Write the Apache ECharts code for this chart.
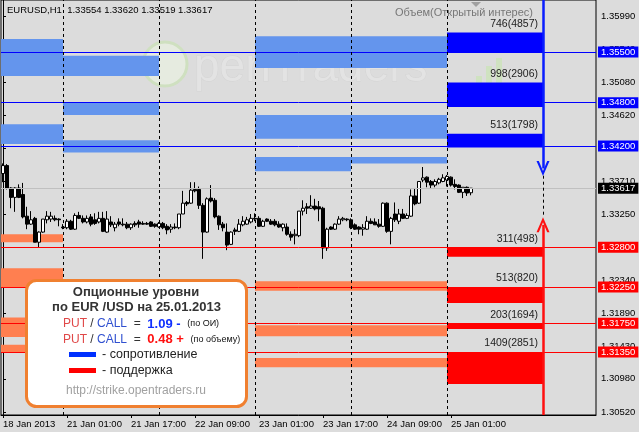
<!DOCTYPE html>
<html>
<head>
<meta charset="utf-8">
<style>
  html, body { margin: 0; padding: 0; background: #dcdcdc; }
  #chart { width: 639px; height: 432px; }
</style>
<script src="https://cdn.jsdelivr.net/npm/echarts@6.0.0/dist/echarts.min.js"></script>
</head>
<body>
<div id="chart"></div>
<script>
// EURUSD H1, bar 0 = 18 Jan 2013 09:00
const opens = [1.3382,1.3393,1.3362,1.3349,1.3362,1.3353,1.3323,1.3312,1.3320,1.3287,1.3301,1.3318,1.3319,1.3320,1.3319,1.3308,1.3307,1.3316,1.3305,1.3324,
  1.3320,1.3315,1.3322,1.3318,1.3315,1.3320,1.3301,1.3315,1.3307,1.3315,1.3312,1.3312,1.3307,1.3313,1.3315,1.3313,1.3313,1.3315,1.3312,1.3308,
  1.3313,1.3309,1.3305,1.3308,1.3307,1.3326,1.3342,1.3341,1.3360,1.3360,1.3338,1.3301,1.3348,1.3345,1.3323,1.3312,1.3301,1.3284,1.3304,1.3302,
  1.3311,1.3312,1.3315,1.3320,1.3320,1.3309,1.3319,1.3316,1.3316,1.3312,1.3307,1.3308,1.3298,1.3296,1.3296,1.3330,1.3336,1.3334,1.3337,1.3336,
  1.3334,1.3279,1.3308,1.3305,1.3312,1.3318,1.3319,1.3318,1.3311,1.3308,1.3305,1.3305,1.3316,1.3315,1.3312,1.3309,1.3341,1.3302,1.3326,1.3316,
  1.3326,1.3320,1.3323,1.3351,1.3341,1.3373,1.3377,1.3371,1.3366,1.3369,1.3371,1.3373,1.3377,1.3367,1.3366,1.3356,1.3363,1.33554];
const highs = [1.3396,1.3395,1.3363,1.3363,1.3367,1.3369,1.3336,1.3330,1.3322,1.3302,1.3319,1.3330,1.3329,1.3324,1.3320,1.3312,1.3319,1.3318,1.3327,1.3329,
  1.3324,1.3324,1.3326,1.3327,1.3329,1.3329,1.3330,1.3323,1.3315,1.3320,1.3320,1.3315,1.3313,1.3316,1.3318,1.3316,1.3315,1.3316,1.3313,1.3315,
  1.3315,1.3312,1.3312,1.3313,1.3326,1.3358,1.3344,1.3370,1.3370,1.3364,1.3341,1.3349,1.3366,1.3348,1.3324,1.3315,1.3313,1.3302,1.3307,1.3319,
  1.3323,1.3322,1.3326,1.3327,1.3323,1.3318,1.3320,1.3319,1.3319,1.3316,1.3313,1.3313,1.3302,1.3305,1.3330,1.3345,1.3341,1.3352,1.3347,1.3344,
  1.3336,1.3307,1.3309,1.3313,1.3323,1.3322,1.3320,1.3320,1.3313,1.3309,1.3312,1.3323,1.3320,1.3320,1.3319,1.3342,1.3342,1.3322,1.3342,1.3333,
  1.3333,1.3327,1.3360,1.3362,1.3371,1.3391,1.3378,1.3373,1.3374,1.3376,1.3381,1.3380,1.3378,1.3374,1.3367,1.3363,1.3364,1.33620];
const lows = [1.3370,1.3360,1.3334,1.3329,1.3348,1.3320,1.3305,1.3311,1.3287,1.3279,1.3300,1.3313,1.3315,1.3316,1.3309,1.3305,1.3305,1.3304,1.3304,1.3319,
  1.3313,1.3313,1.3309,1.3311,1.3313,1.3301,1.3300,1.3308,1.3302,1.3309,1.3309,1.3305,1.3304,1.3308,1.3307,1.3311,1.3311,1.3308,1.3307,1.3307,
  1.3305,1.3298,1.3300,1.3305,1.3305,1.3326,1.3337,1.3340,1.3356,1.3333,1.3264,1.3300,1.3342,1.3320,1.3304,1.3302,1.3276,1.3283,1.3297,1.3301,
  1.3309,1.3311,1.3313,1.3316,1.3308,1.3308,1.3315,1.3311,1.3309,1.3307,1.3302,1.3296,1.3289,1.3284,1.3294,1.3324,1.3326,1.3333,1.3331,1.3316,
  1.3264,1.3275,1.3304,1.3304,1.3311,1.3316,1.3316,1.3305,1.3304,1.3298,1.3296,1.3304,1.3312,1.3311,1.3307,1.3308,1.3300,1.3284,1.3315,1.3312,
  1.3319,1.3319,1.3322,1.3338,1.3340,1.3370,1.3363,1.3362,1.3363,1.3367,1.3370,1.3364,1.3364,1.3360,1.3355,1.3348,1.3351,1.33519];
const closes = [1.3393,1.3362,1.3349,1.3362,1.3349,1.3322,1.3312,1.3318,1.3287,1.3301,1.3319,1.3323,1.3323,1.3318,1.3318,1.3307,1.3316,1.3305,1.3324,1.3320,
  1.3315,1.3320,1.3312,1.3313,1.3320,1.3302,1.3319,1.3311,1.3312,1.3312,1.3311,1.3307,1.3312,1.3311,1.3312,1.3312,1.3312,1.3309,1.3309,1.3313,
  1.3307,1.3304,1.3308,1.3307,1.3326,1.3341,1.3340,1.3359,1.3358,1.3338,1.3301,1.3347,1.3344,1.3322,1.3311,1.3307,1.3283,1.3301,1.3302,1.3312,
  1.3316,1.3318,1.3320,1.3319,1.3309,1.3316,1.3316,1.3312,1.3311,1.3308,1.3312,1.3298,1.3294,1.3298,1.3330,1.3334,1.3334,1.3337,1.3333,1.3333,
  1.3279,1.3305,1.3305,1.3312,1.3319,1.3320,1.3318,1.3307,1.3305,1.3305,1.3307,1.3316,1.3313,1.3311,1.3309,1.3341,1.3302,1.3320,1.3318,1.3326,
  1.3320,1.3324,1.3351,1.3340,1.3371,1.3376,1.3370,1.3366,1.3371,1.3374,1.3376,1.3378,1.3366,1.3364,1.3356,1.3363,1.3355,1.33617];

const timeTickBars = [0, 16, 32, 48, 64, 80, 96, 112];
const timeTickText = ['18 Jan 2013', '21 Jan 01:00', '21 Jan 17:00', '22 Jan 09:00',
  '23 Jan 01:00', '23 Jan 17:00', '24 Jan 09:00', '25 Jan 01:00'];
const priceTicks = [1.3052, 1.3098, 1.3143, 1.3189, 1.3234, 1.3280, 1.3325, 1.3371,
  1.3417, 1.3462, 1.3508, 1.3554, 1.3599];
const daySeparators = [15, 39, 63, 87, 111];

const callLevels = [1.3550, 1.3480, 1.3420];
const putLevels = [1.3280, 1.3225, 1.3175, 1.3135];
const lastPrice = 1.33617;

// earlier days: [fromBar, toBar, top, bottom]
const oldCallZones = [
  [-0.5, 15, 1.3568, 1.3517], [-0.5, 15, 1.3450, 1.3423],
  [15, 39, 1.3545, 1.3517], [15, 39, 1.3481, 1.3463], [15, 39, 1.3428, 1.3411],
  [63, 111, 1.3572, 1.3528], [63, 111, 1.3463, 1.3430],
  [63, 87, 1.3405, 1.3385], [87, 111, 1.3405, 1.3396]
];
const oldPutZones = [
  [-0.5, 15, 1.3298, 1.3287], [-0.5, 15, 1.3251, 1.3225],
  [-0.5, 15, 1.3183, 1.3156], [-0.5, 15, 1.3145, 1.3135],
  [63, 111, 1.3233, 1.3220], [63, 111, 1.3172, 1.3157], [63, 111, 1.3127, 1.3114]
];
// today: [top, bottom, volume(open interest)]
const volFrom = 111, volTo = 135;
const callVolume = [[1.3577, 1.3549, '746(4857)'], [1.3508, 1.3474, '998(2906)'], [1.3437, 1.3418, '513(1798)']];
const putVolume = [[1.3280, 1.3267, '311(498)'], [1.3225, 1.3203, '513(820)'],
  [1.3175, 1.3167, '203(1694)'], [1.3135, 1.3091, '1409(2851)']];

const arrowBar = 135;
const callArrowTip = 1.3379, putArrowTip = 1.3321;

const yMin = 1.3048, yMax = 1.3622;
const FONT = 'Liberation Sans';
const chevron = 'path://M7,0 L14,15 L11.5,15 L7,5 L2.5,15 L0,15 Z';

const chart = echarts.init(document.getElementById('chart'));

const candleData = opens.map((o, i) => [i, o, closes[i], lows[i], highs[i]]);
const zoneArea = (z) => [{ xAxis: z[0], yAxis: z[2] }, { xAxis: z[1], yAxis: z[3] }];
const volArea = (v) => [{ xAxis: volFrom, yAxis: v[0], name: v[2] }, { xAxis: volTo, yAxis: v[1] }];

function priceLine(v, color) {
  return {
    yAxis: v,
    lineStyle: { color: color, width: 1, type: 'solid' },
    label: {
      show: true, position: 'end', distance: 2, formatter: v.toFixed(5),
      backgroundColor: color === '#c0c0c0' ? '#000' : color, color: '#fff',
      padding: [1, 3, 0, 3], fontFamily: FONT, fontSize: 9.5
    }
  };
}

const volLabel = {
  show: true, formatter: '{b}', position: 'insideTopRight', offset: [0, -19],
  color: '#222', fontFamily: FONT, fontSize: 10.5
};

const last = opens.length - 1;
const header = 'EURUSD,H1  ' + [opens[last], highs[last], lows[last], closes[last]].map((v) => v.toFixed(5)).join(' ');

chart.setOption({
  animation: false,
  backgroundColor: '#dcdcdc',
  grid: { left: 1, right: 43, top: -1, bottom: 17, show: true, borderColor: '#000', borderWidth: 1, backgroundColor: 'transparent' },
  xAxis: {
    type: 'value', min: -0.5, max: 148.25,
    axisLine: { show: true, onZero: false, lineStyle: { color: '#000' } },
    axisTick: { show: true, customValues: timeTickBars, length: 3, lineStyle: { color: '#000' } },
    axisLabel: {
      customValues: timeTickBars, formatter: (v) => timeTickText[timeTickBars.indexOf(v)],
      align: 'left', margin: 4, color: '#000', fontFamily: FONT, fontSize: 9.5
    },
    splitLine: { show: false }
  },
  yAxis: {
    type: 'value', position: 'right', min: yMin, max: yMax,
    axisLine: { show: true, lineStyle: { color: '#000' } },
    axisTick: { show: true, customValues: priceTicks, length: 3, lineStyle: { color: '#000' } },
    axisLabel: {
      customValues: priceTicks, formatter: (v) => v.toFixed(5),
      margin: 5, color: '#000', fontFamily: FONT, fontSize: 9.5
    },
    splitLine: { show: false }
  },
  graphic: [
    // watermark
    { type: 'circle', z: 0, shape: { cx: 165, cy: 64, r: 22 }, style: { fill: '#e6ebe0', stroke: '#cfe0c0', lineWidth: 3 } },
    { type: 'text', z: 0, style: { text: 'penTraders', x: 194, y: 68, verticalAlign: 'middle', fill: '#e3e3e3', stroke: '#d4d4d4', lineWidth: 1, fontFamily: FONT, fontSize: 46 } },
    { type: 'rect', z: 0, shape: { x: 476, y: 76, width: 6, height: 11 }, style: { fill: '#cfe2c0' } },
    { type: 'rect', z: 0, shape: { x: 486, y: 66, width: 6, height: 21 }, style: { fill: '#cfe2c0' } },
    { type: 'rect', z: 0, shape: { x: 496, y: 58, width: 6, height: 29 }, style: { fill: '#cfe2c0' } },
    // header texts
    { type: 'text', z: 10, style: { text: header, x: 7, y: 10.5, verticalAlign: 'middle', fill: '#000', fontFamily: FONT, fontSize: 9.5 } },
    { type: 'polygon', z: 10, shape: { points: [[471, 2], [481, 2], [476, 7]] }, style: { fill: '#a0a0a0' } },
    { type: 'text', z: 10, style: { text: 'Объем(Открытый интерес)', x: 533, y: 12.5, align: 'right', verticalAlign: 'middle', fill: '#777', fontFamily: FONT, fontSize: 11 } },
    // info box
    { type: 'rect', z: 20, shape: { x: 26.5, y: 280.5, width: 220, height: 126, r: 10 }, style: { fill: '#fff', stroke: '#f08030', lineWidth: 3 } },
    { type: 'text', z: 21, style: { text: 'Опционные уровни', x: 136, y: 292, align: 'center', verticalAlign: 'middle', fill: '#333', fontFamily: FONT, fontSize: 13, fontWeight: 'bold' } },
    { type: 'text', z: 21, style: { text: 'по EUR /USD на 25.01.2013', x: 136.5, y: 307.5, align: 'center', verticalAlign: 'middle', fill: '#333', fontFamily: FONT, fontSize: 13, fontWeight: 'bold' } },
    { type: 'text', z: 21, style: {
      text: '{p|PUT} {d|/} {c|CALL}  {d|=}  {b|1.09 -}  {s|(по ОИ)}', x: 63, y: 324, verticalAlign: 'middle',
      rich: {
        p: { fill: '#e04848', fontFamily: FONT, fontSize: 12 },
        d: { fill: '#333', fontFamily: FONT, fontSize: 12 },
        c: { fill: '#3050d0', fontFamily: FONT, fontSize: 12 },
        b: { fill: '#1030ff', fontFamily: FONT, fontSize: 13, fontWeight: 'bold' },
        s: { fill: '#111', fontFamily: FONT, fontSize: 9 }
      } } },
    { type: 'text', z: 21, style: {
      text: '{p|PUT} {d|/} {c|CALL}  {d|=}  {b|0.48 +}  {s|(по объему)}', x: 63, y: 339.5, verticalAlign: 'middle',
      rich: {
        p: { fill: '#e04848', fontFamily: FONT, fontSize: 12 },
        d: { fill: '#333', fontFamily: FONT, fontSize: 12 },
        c: { fill: '#3050d0', fontFamily: FONT, fontSize: 12 },
        b: { fill: '#ff1010', fontFamily: FONT, fontSize: 13, fontWeight: 'bold' },
        s: { fill: '#111', fontFamily: FONT, fontSize: 9 }
      } } },
    { type: 'rect', z: 21, shape: { x: 69, y: 352, width: 27, height: 5 }, style: { fill: '#0030ff' } },
    { type: 'text', z: 21, style: { text: '- сопротивление', x: 102, y: 355, verticalAlign: 'middle', fill: '#222', fontFamily: FONT, fontSize: 12.5 } },
    { type: 'rect', z: 21, shape: { x: 69, y: 368, width: 27, height: 5 }, style: { fill: '#ff0000' } },
    { type: 'text', z: 21, style: { text: '- поддержка', x: 102, y: 370.5, verticalAlign: 'middle', fill: '#222', fontFamily: FONT, fontSize: 12.5 } },
    { type: 'text', z: 21, style: { text: 'http://strike.opentraders.ru', x: 136, y: 391, align: 'center', verticalAlign: 'middle', fill: '#a0a0a0', fontFamily: FONT, fontSize: 12 } }
  ],
  series: [
    {
      type: 'line', data: [], z: 1, silent: true,
      markArea: { silent: true, itemStyle: { color: '#6495ed' }, data: oldCallZones.map(zoneArea) }
    },
    {
      type: 'line', data: [], z: 1, silent: true,
      markArea: { silent: true, itemStyle: { color: '#ff7f50' }, data: oldPutZones.map(zoneArea) }
    },
    {
      type: 'line', data: [], z: 1, silent: true,
      markArea: { silent: true, itemStyle: { color: '#0000ff' }, label: volLabel, data: callVolume.map(volArea) }
    },
    {
      type: 'line', data: [], z: 1, silent: true,
      markArea: { silent: true, itemStyle: { color: '#ff0000' }, label: volLabel, data: putVolume.map(volArea) }
    },
    {
      type: 'line', data: [], z: 2, silent: true,
      markLine: {
        silent: true, symbol: 'none', precision: 5,
        data: [priceLine(lastPrice, '#c0c0c0')]
          .concat(callLevels.map((v) => priceLine(v, '#0000ff')))
          .concat(putLevels.map((v) => priceLine(v, '#ff0000')))
      }
    },
    {
      type: 'line', data: [], z: 3, silent: true,
      markLine: {
        silent: true, symbol: 'none', label: { show: false },
        lineStyle: { type: [3, 3], color: '#000', width: 1 },
        data: daySeparators.map((b) => ({ xAxis: b }))
          .concat([[{ coord: [arrowBar, callArrowTip] }, { coord: [arrowBar, putArrowTip] }]])
      }
    },
    {
      type: 'candlestick', z: 4, silent: true,
      dimensions: ['bar', 'open', 'close', 'lowest', 'highest'],
      encode: { x: 'bar', y: ['open', 'close', 'lowest', 'highest'] },
      data: candleData, barWidth: 3,
      itemStyle: { color: '#fff', color0: '#000', borderColor: '#000', borderColor0: '#000', borderColorDoji: '#000', borderWidth: 1 }
    },
    {
      type: 'line', data: [], z: 5, silent: true,
      markLine: {
        silent: true, symbol: ['none', chevron], symbolSize: [13, 15], label: { show: false },
        data: [
          [{ coord: [arrowBar, yMax], lineStyle: { color: '#0a1eff', width: 2.5, type: 'solid' } },
           { coord: [arrowBar, callArrowTip + 0.0010] }],
          [{ coord: [arrowBar, yMin], lineStyle: { color: '#ff1010', width: 2.5, type: 'solid' } },
           { coord: [arrowBar, putArrowTip - 0.0010] }]
        ]
      }
    }
  ]
});
</script>
</body>
</html>
